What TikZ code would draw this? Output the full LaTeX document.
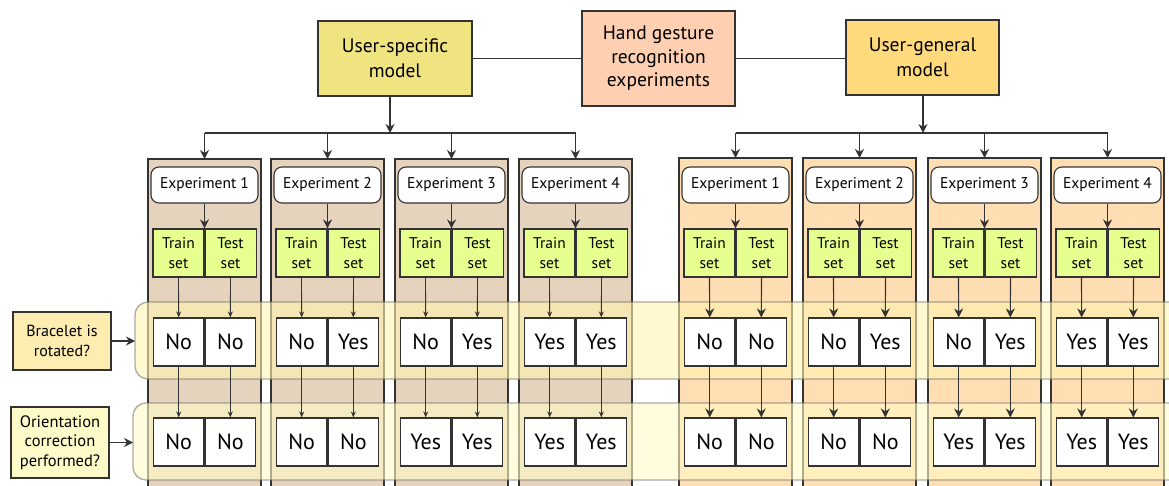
\documentclass[tikz,border=0pt]{standalone}
\usepackage{fontspec}
\setmainfont{PT Sans}
\usetikzlibrary{arrows.meta}
\definecolor{specfill}{HTML}{F0E480}
\definecolor{genfill}{HTML}{FEDA7C}
\definecolor{rootfill}{HTML}{FFCFB1}
\definecolor{lpanel}{HTML}{E6D3BD}
\definecolor{rpanel}{HTML}{FFDEB3}
\definecolor{setfill}{HTML}{E6FF8E}
\definecolor{askfill}{HTML}{FDEDB0}
\definecolor{ask2fill}{HTML}{FFFBC8}
\definecolor{bandfill}{HTML}{FFF3B0}
\definecolor{linec}{HTML}{333333}
\tikzset{
  every node/.style={font=\fontsize{15}{19}\selectfont, text=black},
  box/.style={draw=linec, line width=1.1pt, align=center, inner sep=0pt},
  panel/.style={draw=linec, line width=1.1pt},
  band/.style={draw=black!60, draw opacity=0.55, line width=1.3pt, fill=bandfill, fill opacity=0.6, rounded corners=13pt},
  bigarr/.style={draw=linec, line width=1.1pt, -{Stealth[length=9pt,width=9pt]}},
  smallarr/.style={draw=linec, line width=0.9pt, -{Stealth[length=6pt,width=5pt]}},
  plain/.style={draw=linec, line width=1.1pt},
  half/.style={box, minimum width=50.5pt, minimum height=48pt, fill=white, font=\fontsize{22}{24}\selectfont},
  sethalf/.style={box, minimum width=51pt, minimum height=48pt, fill=setfill, font=\fontsize{15.5}{19.5}\selectfont},
  expbox/.style={box, fill=white, rounded corners=8pt, minimum width=107pt, minimum height=36pt, font=\fontsize{15.5}{19}\selectfont},
  topbox/.style={box, minimum width=154pt, minimum height=75pt, font=\fontsize{19.5}{25}\selectfont},
}
\begin{document}
\begin{tikzpicture}[x=1pt,y=-1pt]
\useasboundingbox (0,0) rectangle (1169,486);

% top level boxes
\node[topbox, fill=specfill] (spec) at (395,58.5) {User-specific\\model};
\node[topbox, fill=rootfill, minimum width=153pt, minimum height=95pt, font=\fontsize{19.5}{23.5}\selectfont] (root) at (658.5,58.5) {Hand gesture\\recognition\\experiments};
\node[topbox, fill=genfill, minimum width=153pt] (gen) at (922.5,57.5) {User-general\\model};
\draw[plain] (spec.east |- root.west) -- (root.west);
\draw[plain] (root.east) -- (gen.west |- root.east);

% experiment panels: left group (user-specific) and right group (user-general)
\foreach \x in {148,271,395,519} {
  \fill[lpanel] (\x,159) rectangle ++(113,330);
  \draw[panel] (\x,489) -- (\x,159) -- ++(113,0) -- ++(0,330);
}
\foreach \x in {679,803,928,1051} {
  \fill[rpanel] (\x,158) rectangle ++(113,331);
  \draw[panel] (\x,489) -- (\x,158) -- ++(113,0) -- ++(0,331);
}

% question bands
\path[band] (135,302) rectangle (1196,379);
\path[band, fill=ask2fill] (133,403) rectangle (1196,480);
\fill[white] (1168.6,290) rectangle (1172,486);

% question labels
\node[box, fill=askfill, minimum width=98pt, minimum height=58pt, font=\fontsize{16}{20}\selectfont] (q1) at (62,341) {Bracelet is\\rotated?};
\node[box, fill=ask2fill, minimum width=98pt, minimum height=71pt, font=\fontsize{16.5}{19.5}\selectfont] (q2) at (60,442.5) {Orientation\\correction\\performed?};
\coordinate (b1) at (135,341);
\coordinate (b2) at (133,442.5);
\draw[bigarr] (q1.east) -- (b1);
\draw[bigarr] (q2.east) -- (b2);

% branch connectors from the two models
\coordinate (ls) at (390,133);
\coordinate (rs) at (923,133);
\draw[bigarr] (spec.south -| ls) -- (ls);
\draw[bigarr] (gen.south -| rs) -- (rs);

% panel contents
\foreach \g/\n/\x/\top/\arr/\ra/\rb/\sa/\sb in {
  L1/1/148/159/smallarr/No/No/No/No,
  L2/2/271/159/smallarr/No/Yes/No/No,
  L3/3/395/159/smallarr/No/Yes/Yes/Yes,
  L4/4/519/159/smallarr/Yes/Yes/Yes/Yes,
  R1/1/679/158/bigarr/No/No/No/No,
  R2/2/803/158/bigarr/No/Yes/No/No,
  R3/3/928/158/bigarr/No/Yes/Yes/Yes,
  R4/4/1051/158/bigarr/Yes/Yes/Yes/Yes} {
  \pgfmathsetmacro\c{\x+56.5}
  \coordinate (\g-top) at (\c,\top);
  \coordinate (\g-br) at (\c,133);
  \node[expbox] (\g-exp) at (\c,185) {Experiment \n};
  \node[sethalf, anchor=east] (\g-tr) at (\c,253) {Train\\set};
  \node[sethalf, anchor=west] (\g-ts) at (\c,253) {Test\\set};
  \node[half, anchor=east] (\g-ra) at (\c,342) {\ra};
  \node[half, anchor=west] (\g-rb) at (\c,342) {\rb};
  \node[half, anchor=east] (\g-sa) at (\c,442) {\sa};
  \node[half, anchor=west] (\g-sb) at (\c,442) {\sb};
  \draw[bigarr] (\g-br) -- (\g-top);
  \draw[bigarr] (\g-exp.south) -- (\g-tr.north east);
  \draw[\arr] (\g-tr.south) -- (\g-ra.north);
  \draw[\arr] (\g-ts.south) -- (\g-rb.north);
  \draw[\arr] (\g-ra.south) -- (\g-sa.north);
  \draw[\arr] (\g-rb.south) -- (\g-sb.north);
}
\draw[plain] (L1-br) -- (L4-br);
\draw[plain] (R1-br) -- (R4-br);
\end{tikzpicture}
\end{document}
